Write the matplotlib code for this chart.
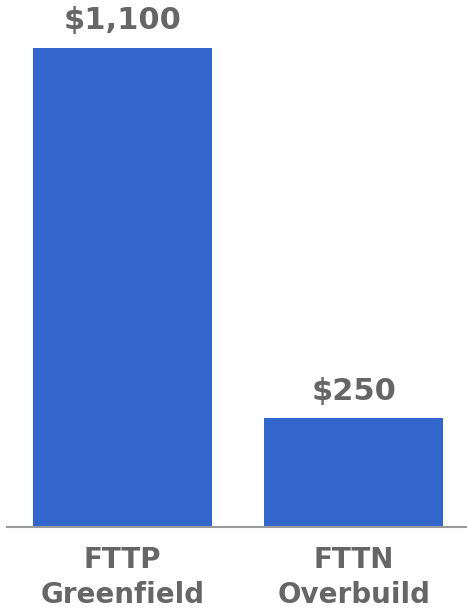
import matplotlib
matplotlib.use("Agg")
import matplotlib.pyplot as plt

categories = ["FTTP\nGreenfield", "FTTN\nOverbuild"]
values = [1100, 250]
value_labels = ["$1,100", "$250"]

fig = plt.figure(figsize=(4.67, 6.13), dpi=100)
ax = fig.add_axes([7/467, 86/613, 460/467, 527/613])
x = list(range(len(categories)))
ax.bar(x, values, width=0.773, color="#3366CC")
ax.set_xlim(-0.5, 1.49)
ax.set_ylim(0, 1210)
for xi, v, lab in zip(x, values, value_labels):
    ax.annotate(lab, (xi, v), xytext=(0, 9), textcoords="offset points",
                ha="center", va="bottom", fontsize=22, fontweight="bold",
                color="#666666", family="DejaVu Sans")
ax.set_xticks(x)
ax.set_xticklabels(categories, fontsize=20, fontweight="bold", color="#666666",
                   linespacing=1.3)
ax.tick_params(axis="x", length=0, pad=14)
ax.set_yticks([])
for s in ["top", "right", "left"]:
    ax.spines[s].set_visible(False)
ax.spines["bottom"].set_color("#999999")
ax.spines["bottom"].set_linewidth(1.5)
fig.savefig("out.png", dpi=100)
